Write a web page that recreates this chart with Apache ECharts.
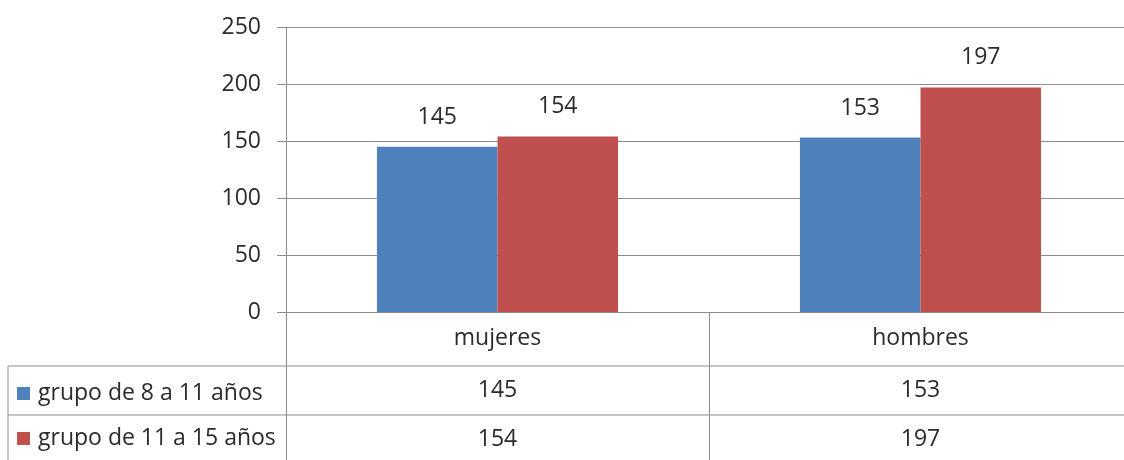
<!DOCTYPE html>
<html><head><meta charset="utf-8">
<script src="https://cdn.jsdelivr.net/npm/echarts@6/dist/echarts.min.js"></script>
<style>html,body{margin:0;padding:0;background:#fff;overflow:hidden}#c{width:1140px;height:460px}</style>
</head><body><div id="c"></div>
<script>
var categories = ['mujeres', 'hombres'];
var seriesNames = ['grupo de 8 a 11 años', 'grupo de 11 a 15 años'];
var grupo8a11 = [145, 153];
var grupo11a15 = [154, 197];
var yTicks = [0, 50, 100, 150, 200, 250];

var FONT = '"Open Sans"';
var FS = 23;
var TXT = '#2b2b2b';
var LINE = '#8c8c8c';
var colors = ['#4F81BD', '#C0504D'];
var chart = echarts.init(document.getElementById('c'));
var seriesData = [grupo8a11, grupo11a15];

var option = {
  animation: false,
  textStyle: {fontFamily: FONT},
  grid: {left: 286, right: 8, top: 27, bottom: 148, containLabel: false},
  legend: {
    orient: 'vertical', left: 12, top: 377, itemGap: 22, itemWidth: 13, itemHeight: 13,
    icon: 'rect', selectedMode: false,
    textStyle: {fontFamily: FONT, fontSize: FS, color: TXT, padding: [0, 0, 0, 3]},
    data: seriesNames
  },
  xAxis: {
    type: 'category', data: categories,
    axisLine: {lineStyle: {color: LINE, width: 1}},
    axisTick: {show: true, length: 150, lineStyle: {color: LINE}},
    axisLabel: {fontFamily: FONT, fontSize: FS, color: TXT, margin: 15}
  },
  yAxis: {
    type: 'value', min: yTicks[0], max: yTicks[yTicks.length - 1], interval: 50,
    axisLine: {show: true, lineStyle: {color: LINE}},
    axisTick: {show: true, length: 9, lineStyle: {color: LINE}},
    axisLabel: {fontFamily: FONT, fontSize: FS, color: TXT, margin: 25},
    splitLine: {lineStyle: {color: LINE, width: 1}}
  },
  series: seriesNames.map(function (n, i) {
    return {
      name: n, type: 'bar', data: seriesData[i], barGap: '0%', barCategoryGap: '43%',
      itemStyle: {color: colors[i]},
      label: {show: true, position: 'top', distance: 18, fontFamily: FONT, fontSize: FS, color: TXT}
    };
  })
};
chart.setOption(option);

// data table below the axis
var axisY = chart.convertToPixel({yAxisIndex: 0}, 0);
var rowH = 49;
var hdrBottom = axisY + 54;
var graphics = [];
var tableLeft = 8, tableRight = 1132;
[0, 1].forEach(function (r) {
  var y = hdrBottom + r * rowH;
  graphics.push({type: 'line', shape: {x1: tableLeft, y1: y, x2: tableRight, y2: y}, style: {stroke: LINE, lineWidth: 1}});
});
graphics.push({type: 'line', shape: {x1: tableLeft, y1: hdrBottom, x2: tableLeft, y2: 460}, style: {stroke: LINE, lineWidth: 1}});
seriesData.forEach(function (arr, r) {
  arr.forEach(function (v, c) {
    var px = chart.convertToPixel({xAxisIndex: 0}, categories[c]);
    graphics.push({type: 'text', x: px, y: hdrBottom + r * rowH + rowH / 2,
      style: {text: String(v), fontFamily: FONT, fontSize: FS, fill: TXT, align: 'center', verticalAlign: 'middle'}});
  });
});
chart.setOption({graphic: graphics});
</script></body></html>
